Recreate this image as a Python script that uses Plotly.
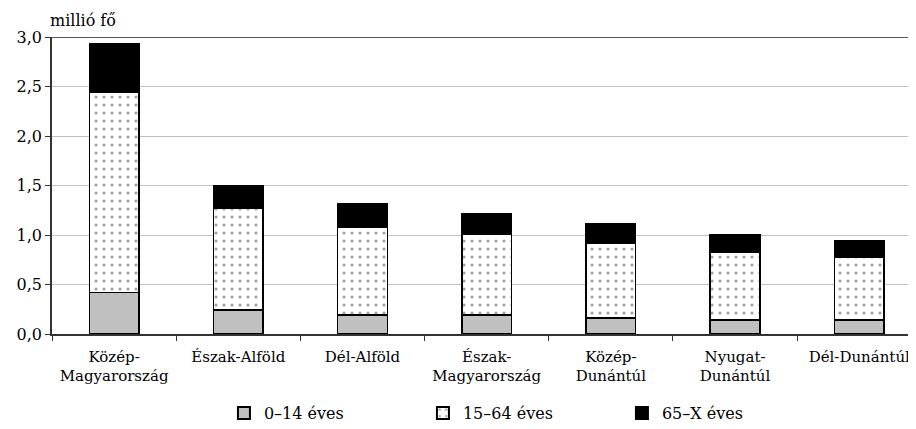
import plotly.graph_objects as go

regions = ["Közép-<br>Magyarország", "Észak-Alföld", "Dél-Alföld", "Észak-<br>Magyarország",
           "Közép-<br>Dunántúl", "Nyugat-<br>Dunántúl", "Dél-Dunántúl"]
age_0_14 = [0.42, 0.24, 0.19, 0.19, 0.16, 0.14, 0.14]
age_15_64 = [2.02, 1.03, 0.89, 0.82, 0.76, 0.69, 0.635]
age_65_x = [0.49, 0.23, 0.24, 0.20, 0.19, 0.17, 0.165]
series_names = ["0–14 éves", "15–64 éves", "65–X éves"]
y_ticks = [0, 0.5, 1.0, 1.5, 2.0, 2.5, 3.0]

FONT = "DejaVu Serif"
line = dict(color="black", width=1.5)

fig = go.Figure()
fig.add_trace(go.Bar(x=regions, y=age_0_14, name=series_names[0],
                     marker=dict(color="#c0c0c0", line=line), width=0.4))
fig.add_trace(go.Bar(x=regions, y=age_15_64, name=series_names[1],
                     marker=dict(color="white", line=line,
                                 pattern=dict(shape=".", fgcolor="#444444", bgcolor="white",
                                              size=8, solidity=0.12)), width=0.4))
fig.add_trace(go.Bar(x=regions, y=age_65_x, name=series_names[2],
                     marker=dict(color="black", line=line), width=0.4))

fig.add_shape(type="line", xref="paper", yref="y", x0=0, x1=1, y0=3.0, y1=3.0,
              line=dict(color="#222222", width=1.5))

fig.add_annotation(text="millió fő", xref="paper", yref="paper", x=0, y=1.0,
                   xanchor="left", yanchor="bottom", xshift=-4, yshift=5, showarrow=False,
                   font=dict(family=FONT, size=16, color="black"))

fig.update_layout(
    width=908, height=421,
    barmode="stack",
    separators=", ",
    plot_bgcolor="white", paper_bgcolor="white",
    margin=dict(l=44, r=0, t=29, b=95, autoexpand=False),
    font=dict(family=FONT, size=16, color="black"),
    showlegend=True,
    legend=dict(orientation="h", x=0.199, y=-0.266, xanchor="left", yanchor="middle",
                traceorder="normal", entrywidth=154, entrywidthmode="pixels",
                font=dict(family=FONT, size=16), itemsizing="constant"),
    bargap=0.6,
)
fig.update_xaxes(range=[-0.5, 6.457], showline=True, linecolor="#333333", linewidth=1.5,
                 ticks="outside", tickson="boundaries", ticklen=5, tickcolor="#333333",
                 tickangle=0, ticklabelstandoff=8, showgrid=False,
                 tickfont=dict(family=FONT, size=15))
fig.update_yaxes(range=[0, 3.0], tickvals=y_ticks, tickformat=".1f", showline=True,
                 linecolor="#333333", linewidth=1.5, ticks="outside", ticklen=5,
                 tickcolor="#333333", showgrid=True, gridcolor="#c0c0c0", gridwidth=1,
                 zeroline=False, tickfont=dict(family=FONT, size=16))

fig.write_html("out.html")
